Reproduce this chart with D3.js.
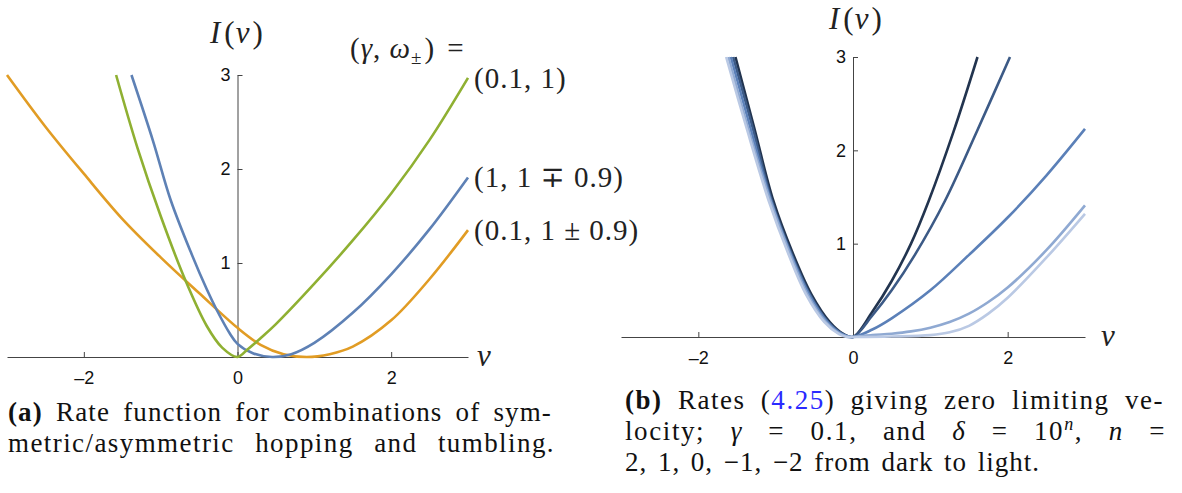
<!DOCTYPE html>
<html>
<head>
<meta charset="utf-8">
<script src="https://cdn.jsdelivr.net/npm/d3@7"></script>
<style>
  body { margin: 0; background: #fff; }
</style>
</head>
<body>
<svg id="fig" width="1182" height="493"></svg>
<script>
// panel (a): v values and I(v)
var greenV = [-1.58, -1.3, -1.0, -0.67, -0.4, -0.2, 0, 0.13, 0.3, 0.5, 1.0, 1.5, 2.0, 2.5, 3.0];
var greenI = [3, 2.22, 1.5, 0.8, 0.33, 0.1, 0, 0.08, 0.2, 0.35, 0.78, 1.24, 1.74, 2.31, 2.97];
var blueV = [-1.38, -1.1, -0.87, -0.6, -0.4, -0.27, -0.1, 0, 0.2, 0.45, 0.7, 1.0, 1.5, 2.0, 2.5, 3.0];
var blueI = [3, 2.3, 1.67, 1.1, 0.72, 0.5, 0.25, 0.14, 0.04, 0, 0.03, 0.15, 0.47, 0.88, 1.36, 1.91];
var orangeV = [-3, -2.5, -2, -1.5, -1, -0.5, 0, 0.3, 0.6, 0.9, 1.2, 1.5, 2.0, 2.5, 3.0];
var orangeI = [3, 2.45, 1.95, 1.47, 1.06, 0.68, 0.31, 0.13, 0.03, 0, 0.03, 0.11, 0.39, 0.83, 1.35];
var seriesA = [
  { v: orangeV, i: orangeI, color: "#e19c24", label: "(0.1, 1 \u00b1 0.9)" },
  { v: blueV, i: blueI, color: "#5e81b5", label: "(1, 1 \u2213 0.9)" },
  { v: greenV, i: greenI, color: "#8fb032", label: "(0.1, 1)" }
];

// panel (b): delta = 10^n, n = 2, 1, 0, -1, -2
var n2V = [-1.52, -1.28, -1.03, -0.78, -0.54, -0.3, -0.12, 0, 0.25, 0.5, 0.75, 0.98, 1.3, 1.61];
var n2I = [3, 2.25, 1.46, 0.9, 0.46, 0.16, 0.03, 0, 0.27, 0.6, 1.0, 1.46, 2.2, 3];
var n1V = [-1.55, -1.3, -1.05, -0.8, -0.56, -0.32, -0.13, 0, 0.25, 0.5, 0.8, 1.19, 1.6, 2.03];
var n1I = [3, 2.25, 1.46, 0.9, 0.46, 0.16, 0.03, 0, 0.23, 0.5, 0.88, 1.46, 2.2, 3];
var n0V = [-1.58, -1.33, -1.06, -0.81, -0.57, -0.33, -0.14, 0, 0.25, 0.5, 1.0, 1.5, 2.0, 2.5, 3.0];
var n0I = [3, 2.25, 1.46, 0.9, 0.46, 0.16, 0.03, 0, 0.08, 0.2, 0.5, 0.88, 1.28, 1.73, 2.23];
var nm1V = [-1.61, -1.36, -1.07, -0.82, -0.59, -0.35, -0.16, -0.05, 0, 0.25, 0.5, 0.75, 1.0, 1.25, 1.5, 1.75, 2.0, 2.5, 3.0];
var nm1I = [3, 2.25, 1.46, 0.9, 0.46, 0.16, 0.03, 0, 0, 0.02, 0.035, 0.06, 0.1, 0.16, 0.25, 0.375, 0.53, 0.93, 1.41];
var nm2V = [-1.64, -1.38, -1.09, -0.84, -0.61, -0.37, -0.18, -0.08, 0, 0.5, 1.0, 1.25, 1.5, 1.75, 2.0, 2.5, 3.0];
var nm2I = [3, 2.25, 1.46, 0.9, 0.46, 0.16, 0.03, 0, 0, 0.005, 0.02, 0.05, 0.12, 0.25, 0.42, 0.85, 1.32];
var seriesB = [
  { v: n2V, i: n2I, color: "#22344f" },
  { v: n1V, i: n1I, color: "#3c5a86" },
  { v: n0V, i: n0I, color: "#5b80b8" },
  { v: nm1V, i: nm1I, color: "#8fa9d2" },
  { v: nm2V, i: nm2I, color: "#bac9e4" }
];

var xTicks = [-2, 0, 2];
var yTicks = [1, 2, 3];

var SERIF = "'Liberation Serif', 'Times New Roman', 'DejaVu Serif', serif";
var SANS = "'Liberation Sans', Arial, sans-serif";

var svg = d3.select("#fig");

function panel(xRange, yRange, series, width) {
  var x = d3.scaleLinear().domain([-3, 3]).range(xRange);
  var y = d3.scaleLinear().domain([0, 3]).range(yRange);
  var g = svg.append("g");

  g.append("g")
    .attr("transform", "translate(0," + y(0) + ")")
    .call(d3.axisBottom(x).tickValues(xTicks).tickSizeInner(-5).tickSizeOuter(0).tickPadding(14)
      .tickFormat(function (d) { return d < 0 ? "\u2013" + (-d) : d; }));
  g.append("g")
    .attr("transform", "translate(" + x(0) + ",0)")
    .call(d3.axisLeft(y).tickValues(yTicks).tickSizeInner(-5).tickSizeOuter(0).tickPadding(7)
      .tickFormat(d3.format("d")));
  g.selectAll(".domain, .tick line").attr("stroke", "#444");
  g.selectAll(".tick text").attr("font-family", SANS).attr("font-size", 18).attr("fill", "#111");

  var line = d3.line()
    .x(function (d) { return x(d[0]); })
    .y(function (d) { return y(d[1]); })
    .curve(d3.curveCatmullRom.alpha(0.5));

  series.forEach(function (s) {
    g.append("path")
      .datum(d3.zip(s.v, s.i))
      .attr("fill", "none")
      .attr("stroke", s.color)
      .attr("stroke-width", width)
      .attr("d", line);
  });
  return { x: x, y: y, g: g };
}

var a = panel([7, 468], [357, 75], seriesA, 2.6);
var b = panel([621, 1085], [337, 57], seriesB, 2.6);

function mathText(x, y, size) {
  return svg.append("text")
    .attr("x", x).attr("y", y)
    .attr("font-family", SERIF).attr("font-size", size).attr("fill", "#222");
}

function iLabel(x, y) {
  var t = mathText(x, y, 31).attr("letter-spacing", 1);
  t.append("tspan").attr("font-style", "italic").text("I");
  t.append("tspan").attr("dx", 3).text("(");
  t.append("tspan").attr("font-style", "italic").text("v");
  t.append("tspan").attr("dx", 2).text(")");
}
iLabel(210, 43);
iLabel(829, 29);

mathText(477, 366, 31).attr("font-style", "italic").text("v");
mathText(1101, 346, 31).attr("font-style", "italic").text("v");

// legend header
var hdr = mathText(350, 58, 29).attr("letter-spacing", 1);
hdr.append("tspan").text("(");
hdr.append("tspan").attr("font-style", "italic").text("\u03b3");
hdr.append("tspan").text(", ");
hdr.append("tspan").attr("font-style", "italic").text("\u03c9");
hdr.append("tspan").attr("dy", 6).attr("font-size", 19).text("\u00b1");
hdr.append("tspan").attr("dy", -6).attr("dx", 2).text(")");
hdr.append("tspan").attr("dx", 12).text("=");

// labels next to the curve ends
seriesA.forEach(function (s) {
  var last = s.i[s.i.length - 1];
  mathText(474, a.y(last) + 10, 29).attr("letter-spacing", 1).text(s.label);
});

// captions: spread each line to the typeset width, part letter spacing, part word spacing
function capLine(x, y, width, parts) {
  var t = svg.append("text").attr("x", x).attr("y", y)
    .attr("font-family", SERIF).attr("font-size", 27).attr("fill", "#111");
  parts.forEach(function (p) {
    var s = t.append("tspan").text(p.t);
    if (p.b) s.attr("font-weight", "bold");
    if (p.i) s.attr("font-style", "italic");
    if (p.c) s.attr("fill", p.c);
    if (p.dy) s.attr("dy", p.dy);
    if (p.fs) s.attr("font-size", p.fs);
  });
  var str = parts.map(function (p) { return p.t; }).join("");
  var extra = width - t.node().getComputedTextLength();
  var ls = Math.max(0, Math.min(1.6, extra * 0.6 / str.length));
  t.attr("letter-spacing", ls);
  var gaps = str.split(" ").length - 1;
  var rest = width - t.node().getComputedTextLength();
  if (gaps > 0) t.attr("word-spacing", Math.max(0, rest / gaps));
  return t;
}
capLine(8, 421, 544, [{ t: "(a)", b: true }, { t: " Rate function for combinations of sym-" }]);
capLine(8, 452, 547, [{ t: "metric/asymmetric hopping and tumbling." }]);

capLine(625, 409, 539, [{ t: "(b)", b: true }, { t: " Rates (" }, { t: "4.25", c: "#2a2aff" }, { t: ") giving zero limiting ve-" }]);
capLine(625, 440, 541, [{ t: "locity; " }, { t: "\u03b3", i: true }, { t: " = 0.1, and " }, { t: "\u03b4", i: true },
  { t: " = 10" }, { t: "n", i: true, dy: -10, fs: 18 }, { t: ", ", dy: 10 }, { t: "n", i: true }, { t: " =" }]);
capLine(625, 471, 415, [{ t: "2, 1, 0, \u22121, \u22122 from dark to light." }]);
</script>
</body>
</html>
